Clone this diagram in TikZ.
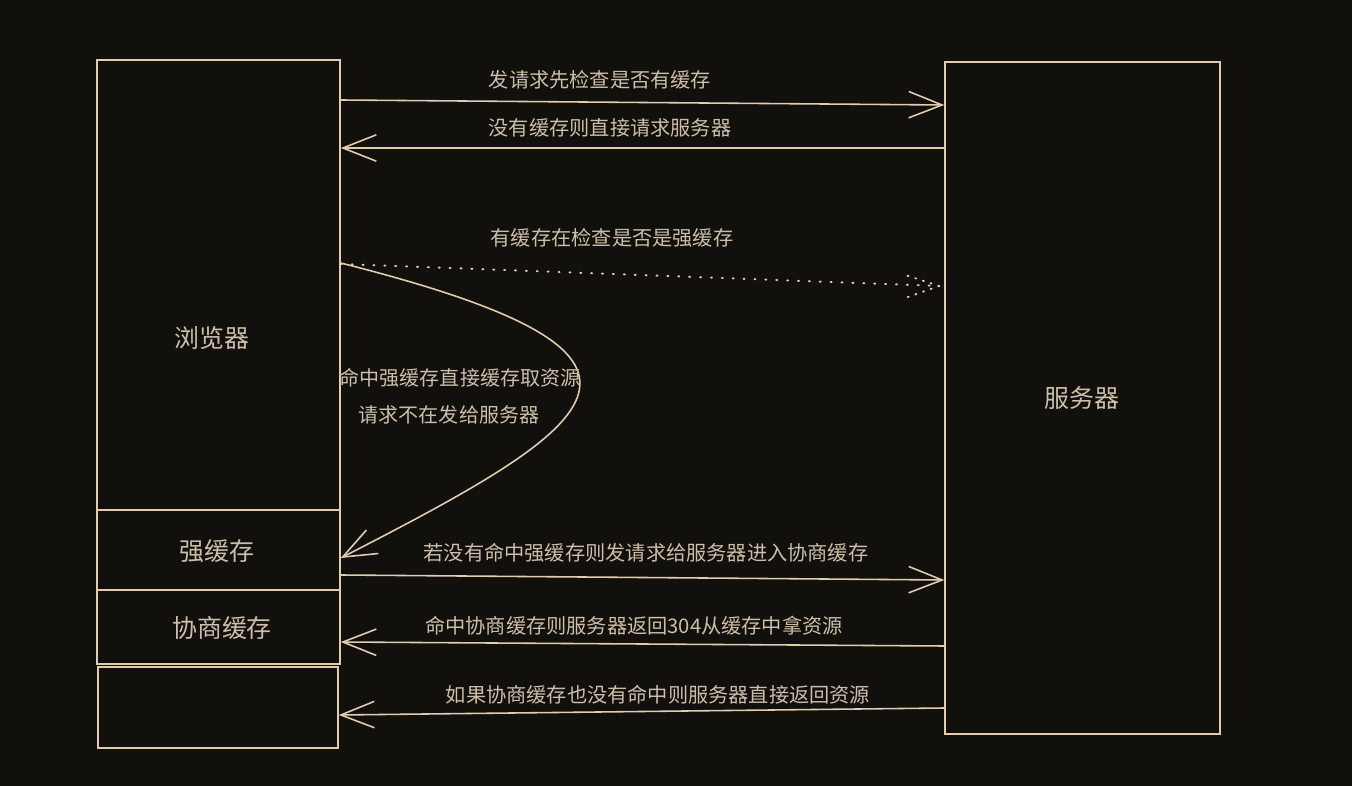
\documentclass[tikz,border=0pt]{standalone}
\usepackage{fontspec}
\setmainfont{Noto Sans CJK SC}
\usetikzlibrary{arrows.meta,positioning}
\definecolor{bg}{RGB}{18,16,13}
\definecolor{ink}{RGB}{226,204,176}
\definecolor{txt}{RGB}{205,190,170}

\begin{document}
\begin{tikzpicture}[x=0.02cm,y=-0.02cm,
  box/.style={draw=ink,line width=0.9pt,inner sep=0pt},
  msg/.style={draw=ink,line width=0.9pt,-{Straight Barb[length=19pt,width=15pt]}},
  dotmsg/.style={draw=ink,line width=1.1pt,line cap=round,dash pattern=on 0.6pt off 5.6pt},
  dothead/.style={draw=ink,line width=1.1pt,line cap=round,dash pattern=on 0.6pt off 4pt},
  lbl/.style={text=txt,font=\fontsize{11.5pt}{14pt}\selectfont},
  small/.style={text=txt,font=\fontsize{11.4pt}{14pt}\selectfont},
  title/.style={text=txt,font=\fontsize{14.2pt}{17pt}\selectfont}]

		\fill[bg] (0,0) rectangle (1352,786);
		\useasboundingbox (0,0) rectangle (1352,786);

		% browser column and server
		\node[box,minimum width=4.86cm,minimum height=9cm] (browser) at (218.5,285) {};
		\node[box,minimum width=4.86cm,minimum height=1.6cm] (strong) at (218.5,550) {};
		\node[box,minimum width=4.86cm,minimum height=1.48cm] (nego) at (218.5,627) {};
		\node[box,minimum width=4.8cm,minimum height=1.62cm] (blank) at (218,707.5) {};
		\node[box,minimum width=5.5cm,minimum height=13.44cm] (server) at (1082.5,398) {};

		\node[title] (browsertext) at (212,338) {浏览器};
		\node[title] (strongtext) at (217,551) {强缓存};
		\node[title] (negotext) at (222,628) {协商缓存};
		\node[title] (servertext) at (1082,398) {服务器};

		% messages
		\draw[msg] (browser.east |- 0,100) -- (server.west |- 0,105);
		\node[lbl] (m1) at (600,80) {发请求先检查是否有缓存};
		\draw[msg] (server.west |- 0,148) -- (browser.east |- 0,148);
		\node[lbl] (m2) at (610,128) {没有缓存则直接请求服务器};

		\draw[dotmsg] (browser.east |- 0,264) -- ([xshift=-0.1cm]server.west |- 0,286) coordinate (dtip);
		\draw[dothead] (dtip) -- ++(-37,-12) (dtip) -- ++(-37,13);
		\node[lbl] (m3) at (612,238) {有缓存在检查是否是强缓存};

		\draw[msg] (browser.east |- 0,263) .. controls (705,355) and (610,420) .. (strong.east |- 0,558);
		\node[small] (h1) at (460,378) {命中强缓存直接缓存取资源};
		\node[small] (h2) at (449,415) {请求不在发给服务器};

		\draw[msg] (strong.east |- 0,575) -- (server.west |- 0,580);
		\node[lbl] (m4) at (646,553) {若没有命中强缓存则发请求给服务器进入协商缓存};
		\draw[msg] (server.west |- 0,646) -- (nego.east |- 0,642);
		\node[lbl] (m5) at (634,626) {命中协商缓存则服务器返回304从缓存中拿资源};
		\draw[msg] (server.west |- 0,708) -- (blank.east |- 0,715);
		\node[lbl] (m6) at (658,695) {如果协商缓存也没有命中则服务器直接返回资源};
\end{tikzpicture}
\end{document}
